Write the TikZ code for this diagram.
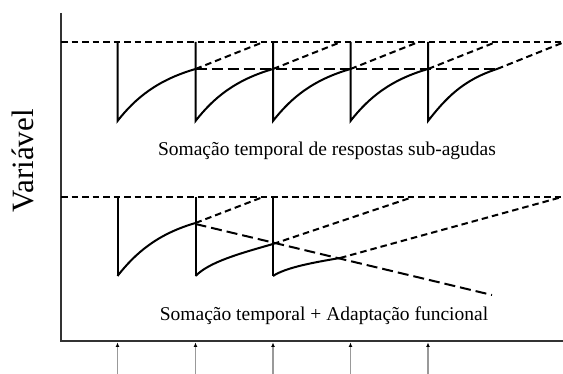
\documentclass[tikz,border=0pt]{standalone}
\usepackage{fontspec}
\setmainfont{Liberation Serif}
\usetikzlibrary{arrows.meta}
\begin{document}
\begin{tikzpicture}[x=1pt,y=-1pt,
  solidline/.style={line width=2pt, line join=miter},
  shortdash/.style={line width=2pt, dash pattern=on 6.5pt off 4pt},
  longdash/.style={line width=2pt, dash pattern=on 11pt off 5pt},
  axisline/.style={line width=2.4pt, draw=black!80},
  stim/.style={line width=1.4pt, draw=black!40, -{Latex[length=4.5pt,width=4pt,black]}},
  lbl/.style={font=\fontsize{19.5}{20}\selectfont, inner sep=0pt}
]
\useasboundingbox (0,0) rectangle (563,374);

% axes
\coordinate (ytop) at (61,13);
\coordinate (origin) at (61,341);
\coordinate (xend) at (563,341);
\draw[axisline] (ytop) -- (origin) -- (xend);

% stimulus arrows
\foreach \i/\x in {0/117.5,1/195.5,2/273,3/350.5,4/428}{
  \coordinate (s\i) at (\x,374);
  \coordinate (a\i) at (\x,342.5);
  \draw[stim] (s\i) -- (a\i);
}

% ---------- top section ----------
\draw[shortdash] (61,42) -- (563,42);
\draw[longdash] (195.5,69) -- (497,69);
\foreach \xa/\xb in {117.5/195.5,195.5/273,273/350.5,350.5/428}{
  \draw[solidline] (\xa,42) -- (\xa,121) .. controls (\xa+18,98) and (\xb-38,80) .. (\xb,69);
}
\draw[solidline] (428,42) -- (428,121) .. controls (446,98) and (463,80) .. (497,69);
\foreach \x in {195.5,273,350.5,428}{
  \draw[shortdash] (\x,69) -- (\x+68,42);
}
\draw[shortdash] (497,69) -- (562,43);

% ---------- bottom section ----------
\draw[shortdash] (61,197) -- (563,197);
\foreach \x in {117.5,195.5,273}{
  \draw[solidline] (\x,197) -- (\x,276);
}
\draw[solidline] (117.5,276) .. controls (135.5,253) and (157.5,234) .. (195.5,223);
\draw[solidline] (195.5,276) .. controls (209.5,262) and (238,254) .. (273,244);
\draw[solidline] (273,276) .. controls (285,268) and (310,263) .. (340,258);
\draw[longdash] (195.5,224) -- (492,295);
\draw[shortdash] (195.5,223) -- (263,197);
\draw[shortdash] (273,244) -- (413,197);
\draw[shortdash] (340,258) -- (562,197);

% labels
\node[lbl] (t1) at (327,151) {Somação temporal de respostas sub-agudas};
\node[lbl] (t2) at (324,316) {Somação temporal + Adaptação funcional};
\node[font=\fontsize{31}{31}\selectfont, rotate=90, inner sep=0pt] (yl) at (23,161) {Variável};
\end{tikzpicture}
\end{document}
